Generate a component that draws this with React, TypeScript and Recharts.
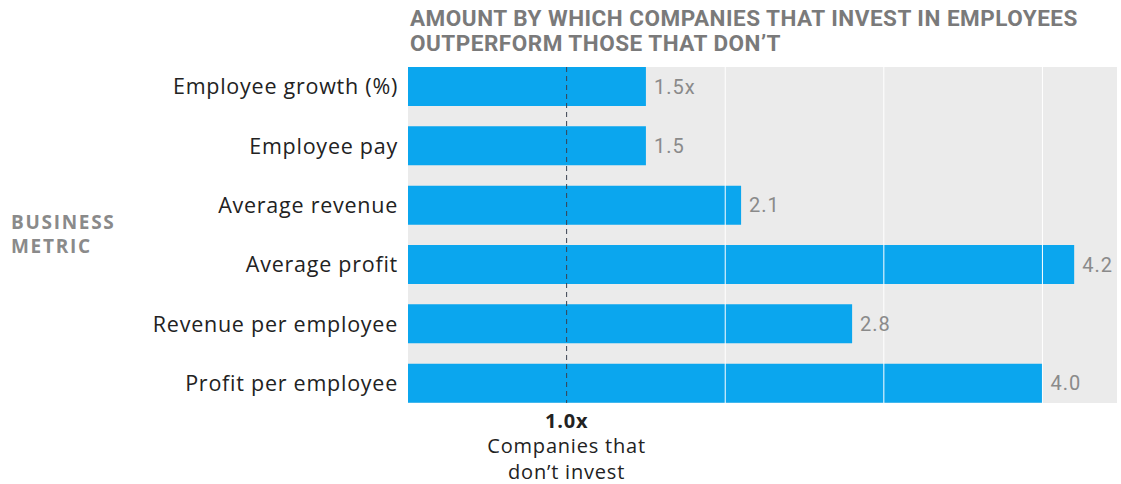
import React from "react";
import {
  BarChart,
  Bar,
  XAxis,
  YAxis,
  LabelList,
  ReferenceArea,
  ReferenceLine,
} from "recharts";

const metrics = [
  "Employee growth (%)",
  "Employee pay",
  "Average revenue",
  "Average profit",
  "Revenue per employee",
  "Profit per employee",
];
const multiples = [1.5, 1.5, 2.1, 4.2, 2.8, 4.0];
const valueLabels = ["1.5x", "1.5", "2.1", "4.2", "2.8", "4.0"];
const gridValues = [2, 3, 4];
const baselineValue = 1.0;
const baselineLabel = ["1.0x", "Companies that", "don\u2019t invest"];

const data = metrics.map((name, i) => ({
  name,
  value: multiples[i],
  label: valueLabels[i],
}));

const BLUE = "#0BA6EE";
const PANEL = "#EBEBEB";
const INSET = 10;
const FONT = "'Open Sans', sans-serif";

const PanelShape = (props: any) => {
  const { x, y, width, height } = props;
  return (
    <rect
      x={x}
      y={y + INSET}
      width={width}
      height={height - INSET * 2}
      fill={PANEL}
    />
  );
};

const makeLine = (stroke: string, dash?: string) => (props: any) => {
  const top = Math.min(props.y1, props.y2) + INSET;
  const bottom = Math.max(props.y1, props.y2) - INSET;
  return (
    <line
      x1={props.x1}
      x2={props.x2}
      y1={top}
      y2={bottom}
      stroke={stroke}
      strokeWidth={1}
      strokeDasharray={dash}
    />
  );
};

const BaselineNote = (props: any) => {
  const vb = props.viewBox || {};
  const x = vb.x;
  const bottom = vb.y + vb.height;
  return (
    <g
      fontFamily={FONT}
      textAnchor="middle"
      fill="#222"
      fontSize={20}
      letterSpacing={0.8}
    >
      <text x={x} y={bottom + 15} fontWeight={700}>
        {baselineLabel[0]}
      </text>
      <text x={x} y={bottom + 40}>
        {baselineLabel[1]}
      </text>
      <text x={x} y={bottom + 66}>
        {baselineLabel[2]}
      </text>
    </g>
  );
};

export default function App() {
  return (
    <div
      style={{
        position: "absolute",
        left: 0,
        top: 0,
        width: 1121,
        height: 484,
        background: "#fff",
      }}
    >
      <div
        style={{
          position: "absolute",
          left: 410,
          top: 6,
          fontFamily: "Roboto, sans-serif",
          fontWeight: 700,
          fontSize: 22.5,
          letterSpacing: 0.5,
          lineHeight: "25px",
          color: "#7A7A7A",
          whiteSpace: "nowrap",
        }}
      >
        AMOUNT BY WHICH COMPANIES THAT INVEST IN EMPLOYEES
        <br />
        OUTPERFORM THOSE THAT DON’T
      </div>
      <div
        style={{
          position: "absolute",
          left: 11,
          top: 210,
          fontFamily: FONT,
          fontWeight: 700,
          fontSize: 19,
          letterSpacing: 1.7,
          lineHeight: "24px",
          color: "#8A8A8A",
        }}
      >
        BUSINESS
        <br />
        METRIC
      </div>
      <BarChart
        width={1121}
        height={484}
        data={data}
        layout="vertical"
        margin={{ top: 57, right: 4, bottom: 71, left: 0 }}
        barCategoryGap={0}
      >
        <XAxis type="number" domain={[0, 4.47]} hide />
        <YAxis
          type="category"
          dataKey="name"
          width={408}
          axisLine={false}
          tickLine={false}
          tickMargin={4}
          tick={{
            fill: "#222",
            fontSize: 21.5,
            fontFamily: FONT,
            letterSpacing: 0.75,
          }}
        />
        <ReferenceArea
          x1={0}
          x2={4.47}
          shape={PanelShape}
          ifOverflow="visible"
        />
        <Bar
          dataKey="value"
          fill={BLUE}
          barSize={39}
          isAnimationActive={false}
        >
          <LabelList
            dataKey="label"
            position="right"
            offset={8}
            fill="#8A8A8A"
            fontSize={20}
            letterSpacing={1}
            fontFamily="Roboto, sans-serif"
          />
        </Bar>
        {gridValues.map((v) => (
          <ReferenceLine key={v} x={v} shape={makeLine("#FFFFFF")} />
        ))}
        <ReferenceLine
          x={baselineValue}
          shape={makeLine("#3A4250", "5 4")}
          label={<BaselineNote />}
        />
      </BarChart>
    </div>
  );
}
